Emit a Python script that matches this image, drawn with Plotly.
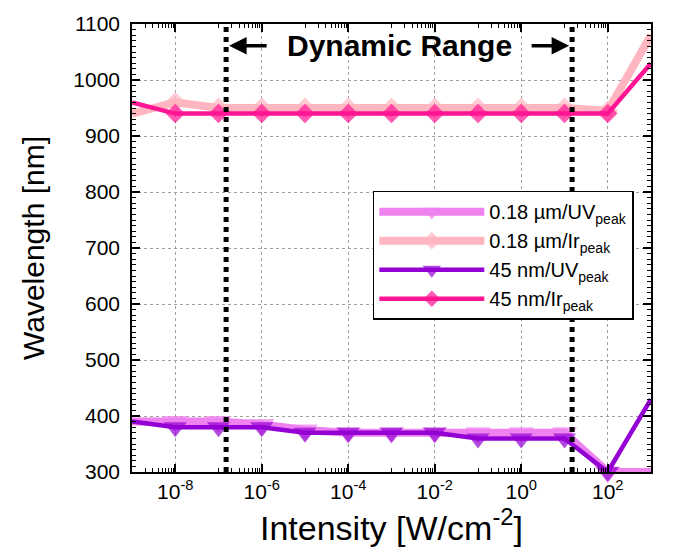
import math
import plotly.graph_objects as go

# ---------------- data ----------------
intensity = [1e-9, 1e-8, 1e-7, 1e-6, 1e-5, 1e-4, 1e-3, 1e-2, 1e-1, 1e0, 1e1, 1e2, 1e3]

uv_018 = [390, 390, 390, 385, 375, 370, 370, 370, 370, 370, 370, 300, 300]
ir_018 = [940, 960, 950, 950, 950, 950, 950, 950, 950, 950, 950, 945, 1080]
uv_45 = [390, 380, 380, 380, 370, 370, 370, 370, 360, 360, 360, 300, 430]
ir_45 = [960, 940, 940, 940, 940, 940, 940, 940, 940, 940, 940, 940, 1030]

series_names = ["0.18 µm/UV<sub>peak</sub>", "0.18 µm/Ir<sub>peak</sub>",
                "45 nm/UV<sub>peak</sub>", "45 nm/Ir<sub>peak</sub>"]
series_values = [uv_018, ir_018, uv_45, ir_45]
series_colors = ["#EE82EE", "#FFB6C1", "#9400D3", "#FF1493"]
series_symbols = ["triangle-down", "diamond", "triangle-down", "diamond"]
series_widths = [8, 8, 4.5, 4.5]
series_msize = [22, 16, 20, 15]

dyn_range = [1.5e-7, 15]   # dynamic range bounds
y_range = [300, 1100]

major_x = [1e-8, 1e-6, 1e-4, 1e-2, 1e0, 1e2]
major_x_text = ["10<sup>-8</sup>", "10<sup>-6</sup>", "10<sup>-4</sup>",
                "10<sup>-2</sup>", "10<sup>0</sup>", "10<sup>2</sup>"]
minor_x = [k * 10.0 ** e for e in (-9, -7, -5, -3, -1, 1) for k in range(1, 10)]

FONT = "Liberation Sans, Arial, sans-serif"

fig = go.Figure()

for name, vals, col, sym, w, ms in zip(series_names, series_values, series_colors,
                                       series_symbols, series_widths, series_msize):
    sizes = [0] + [ms] * (len(vals) - 2) + [0]
    fig.add_trace(go.Scatter(
        x=intensity, y=vals, name=name, mode="lines+markers",
        line=dict(color=col, width=w),
        marker=dict(symbol=sym, size=sizes, color=col, line=dict(width=0)),
        cliponaxis=False,
    ))

for xb in dyn_range:
    fig.add_trace(go.Scatter(
        x=[xb, xb], y=y_range, mode="lines", showlegend=False,
        line=dict(color="black", width=5, dash="dot"), hoverinfo="skip",
    ))

lo, hi = math.log10(dyn_range[0]), math.log10(dyn_range[1])
fig.add_annotation(x=(lo + hi) / 2, y=1061, xref="x", yref="y",
                   text="<b>Dynamic Range</b>", showarrow=False,
                   font=dict(family=FONT, size=30, color="black"))
fig.add_annotation(x=lo, y=1061, xref="x", yref="y", text="", showarrow=True,
                   ax=42, ay=0, arrowhead=2, arrowsize=1, arrowwidth=3.5,
                   arrowcolor="black", standoff=3)
fig.add_annotation(x=hi, y=1061, xref="x", yref="y", text="", showarrow=True,
                   ax=-42, ay=0, arrowhead=2, arrowsize=1, arrowwidth=3.5,
                   arrowcolor="black", standoff=3)

axis_common = dict(
    showline=True, linecolor="black", linewidth=1.5, mirror="allticks",
    ticks="inside", tickcolor="black", tickwidth=1.5, ticklen=8,
    showgrid=True, gridcolor="#A0A0A0", griddash="dot", gridwidth=1,
    zeroline=False,
    tickfont=dict(family=FONT, size=21, color="black"),
)

fig.update_xaxes(
    type="log", range=[-9, 3],
    tickmode="array", tickvals=major_x, ticktext=major_x_text,
    minor=dict(tickmode="array", tickvals=minor_x, ticks="inside", ticklen=4,
               tickcolor="black", tickwidth=1.2, showgrid=False),
    title=dict(text="Intensity [W/cm<sup>-2</sup>]", standoff=14,
               font=dict(family=FONT, size=34, color="black")),
    **axis_common,
)
fig.update_yaxes(
    range=y_range, tickmode="linear", tick0=300, dtick=100,
    minor=dict(dtick=10, ticks="inside", ticklen=4, tickcolor="black",
               tickwidth=1.2, showgrid=False),
    title=dict(text="Wavelength [nm]", standoff=20,
               font=dict(family=FONT, size=30, color="black")),
    ticklabelstandoff=6,
    **axis_common,
)

fig.update_layout(
    width=674, height=555,
    margin=dict(l=132, r=23, t=13, b=83),
    paper_bgcolor="white", plot_bgcolor="white",
    font=dict(family=FONT, color="black"),
    legend=dict(x=0.464, y=0.628, xanchor="left", yanchor="top",
                bgcolor="white", bordercolor="black", borderwidth=1.5,
                font=dict(family=FONT, size=20, color="black"),
                tracegroupgap=0, itemwidth=105),
    showlegend=True,
)

fig.write_html("out.html")
